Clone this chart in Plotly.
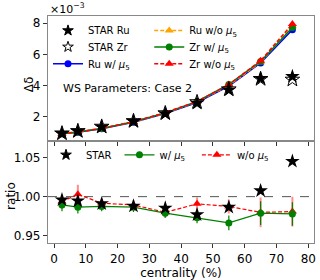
import plotly.graph_objects as go

centrality = [2.5, 7.5, 15, 25, 35, 45, 55, 65, 75]

# Top panel values in units of 1e-3
star_ru = [0.95, 1.09, 1.37, 1.72, 2.21, 2.88, 3.72, 4.46, 4.59]
star_zr = [0.95, 1.10, 1.38, 1.74, 2.24, 2.95, 3.77, 4.43, 4.39]
ru_w = [0.92, 1.02, 1.24, 1.66, 2.22, 2.92, 3.98, 5.45, 7.58]
ru_wo = [0.93, 1.04, 1.26, 1.68, 2.24, 2.96, 4.02, 5.50, 7.80]
zr_w = [0.93, 1.03, 1.26, 1.69, 2.26, 2.99, 4.08, 5.55, 7.72]
zr_wo = [0.94, 1.04, 1.27, 1.70, 2.28, 2.99, 4.07, 5.60, 7.95]
model_err = [0.02, 0.02, 0.02, 0.03, 0.03, 0.04, 0.05, 0.07, 0.09]

# Bottom panel ratios
ratio_star = [0.996, 0.9945, 0.991, 0.988, 0.9855, 0.977, 0.9865, 1.0075, 1.045]
ratio_w = [0.9895, 0.9866, 0.9875, 0.9866, 0.979, 0.973, 0.9666, 0.979, 0.978]
ratio_w_err = [0.008, 0.008, 0.006, 0.006, 0.006, 0.007, 0.0095, 0.015, 0.015]
ratio_wo = [0.9937, 1.003, 0.9916, 0.9895, 0.980, 0.9908, 0.9875, 0.980, 0.981]
ratio_wo_err = [0.009, 0.012, 0.006, 0.006, 0.007, 0.008, 0.009, 0.019, 0.019]

xticks = [0, 10, 20, 30, 40, 50, 60, 70, 80]

FONT = "DejaVu Sans"
BLUE, ORANGE, GREEN, RED = "#0000ff", "#ffa500", "#008000", "#ff0000"
MU = "<i>μ</i><sub>5</sub>"
DASH = "4px,2px"
STAR_SIZE = 11
STAR_LEG_SIZE = 8

W, H = 320, 280
ML, MR, MT, MB = 48, 4, 16, 34
PW, PH = W - ML - MR, H - MT - MB


def px_x(x):
    return (x - ML) / PW


def px_y(y):
    return 1 - (y - MT) / PH


fig = go.Figure()


def model(y, color, dash, symbol, name, legend, size=7):
    fig.add_trace(go.Scatter(
        x=centrality, y=y, mode="lines+markers", name=name,
        line=dict(color=color, width=1.5, dash=dash),
        marker=dict(color=color, symbol=symbol, size=size),
        error_y=dict(type="data", array=model_err, color=color, thickness=1.2, width=0),
        xaxis="x", yaxis="y", legend=legend))


def star_legend(name, symbol, legend, xa, ya):
    # legend-only entry with a smaller star, like the reference legend
    fig.add_trace(go.Scatter(
        x=[None], y=[None], mode="markers", name=name,
        marker=dict(symbol=symbol, size=STAR_LEG_SIZE, color="black",
                    line=dict(width=1, color="black")),
        xaxis=xa, yaxis=ya, legend=legend))


model(ru_w, BLUE, "solid", "circle", "Ru w/ " + MU, "legend3")
model(ru_wo, ORANGE, DASH, "triangle-up", "Ru w/o " + MU, "legend4", 8)
model(zr_w, GREEN, "solid", "circle", "Zr w/ " + MU, "legend5")
model(zr_wo, RED, DASH, "triangle-up", "Zr w/o " + MU, "legend6", 8)

fig.add_trace(go.Scatter(
    x=centrality, y=star_zr, mode="markers", name="STAR Zr", showlegend=False,
    marker=dict(symbol="star-open", size=STAR_SIZE, color="black", line=dict(width=1, color="black")),
    xaxis="x", yaxis="y"))
fig.add_trace(go.Scatter(
    x=centrality, y=star_ru, mode="markers", name="STAR Ru", showlegend=False,
    marker=dict(symbol="star", size=STAR_SIZE, color="black"),
    xaxis="x", yaxis="y"))
star_legend("STAR Ru", "star", "legend", "x", "y")
star_legend("STAR Zr", "star-open", "legend2", "x", "y")

# Bottom panel
fig.add_trace(go.Scatter(
    x=centrality, y=ratio_wo, mode="lines+markers", name="w/o " + MU,
    line=dict(color=RED, width=1.2, dash=DASH),
    marker=dict(color=RED, symbol="triangle-up", size=8),
    error_y=dict(type="data", array=ratio_wo_err, color="rgba(255,0,0,0.45)", thickness=2, width=0),
    xaxis="x2", yaxis="y2", legend="legend9"))
fig.add_trace(go.Scatter(
    x=centrality, y=ratio_w, mode="lines+markers", name="w/ " + MU,
    line=dict(color=GREEN, width=1.2),
    marker=dict(color=GREEN, symbol="circle", size=7),
    error_y=dict(type="data", array=ratio_w_err, color=GREEN, thickness=1.2, width=0),
    xaxis="x2", yaxis="y2", legend="legend8"))
fig.add_trace(go.Scatter(
    x=centrality, y=ratio_star, mode="markers", name="STAR", showlegend=False,
    marker=dict(symbol="star", size=STAR_SIZE, color="black"),
    xaxis="x2", yaxis="y2"))
star_legend("STAR", "star", "legend7", "x2", "y2")

axis_common = dict(showline=True, linecolor="#888888", linewidth=1.3, mirror=True,
                   ticks="outside", ticklen=4, tickwidth=1, tickcolor="#333333",
                   showgrid=False, zeroline=False,
                   tickfont=dict(family=FONT, size=12, color="black"))


def leg(xp, yp):
    return dict(x=px_x(xp), y=px_y(yp), xanchor="left", yanchor="middle",
                bgcolor="rgba(0,0,0,0)", font=dict(family=FONT, size=10),
                borderwidth=0)


legends = {
    "legend": leg(48, 30.7),
    "legend2": leg(48, 47.3),
    "legend3": leg(48, 64.3),
    "legend4": leg(150, 30.7),
    "legend5": leg(150, 47.3),
    "legend6": leg(150, 64.3),
    "legend7": leg(46, 156.7),
    "legend8": leg(120, 156.7),
    "legend9": leg(198, 156.7),
}

fig.update_layout(
    width=W, height=H,
    margin=dict(l=ML, r=MR, t=MT, b=MB),
    plot_bgcolor="white", paper_bgcolor="white",
    font=dict(family=FONT, size=10, color="black"),
    xaxis=dict(domain=[0, 1], anchor="y", range=[-1.9, 81.8], tickvals=xticks,
               showticklabels=False, **axis_common),
    yaxis=dict(domain=[0.45, 1], anchor="x", range=[0.47, 8.46], tickvals=[2, 4, 6, 8],
               **axis_common),
    xaxis2=dict(domain=[0, 1], anchor="y2", range=[-1.9, 81.8], tickvals=xticks,
                title=dict(text="centrality (%)", font=dict(family=FONT, size=12), standoff=2),
                **axis_common),
    yaxis2=dict(domain=[0, 0.45], anchor="x2", range=[0.941, 1.071],
                tickvals=[0.95, 1.00, 1.05], ticktext=["0.95", "1.00", "1.05"],
                **axis_common),
    showlegend=True,
    shapes=[dict(type="line", xref="x2 domain", yref="y2", x0=0, x1=1, y0=1.0, y1=1.0,
                 line=dict(color="#555555", width=1, dash="dash"), layer="below")],
    annotations=[
        dict(text="WS Parameters: Case 2", xref="paper", yref="paper",
             x=px_x(61), y=px_y(89.5), xanchor="left", yanchor="middle",
             showarrow=False, font=dict(family=FONT, size=11)),
        dict(text="×10<sup>−3</sup>", xref="paper", yref="paper",
             x=0.0, y=1.0, xanchor="left", yanchor="bottom", yshift=-2,
             showarrow=False, font=dict(family=FONT, size=11)),
        dict(text="Δδ", xref="paper", yref="paper", x=px_x(29),
             y=px_y(85), textangle=-90, xanchor="center", yanchor="middle",
             showarrow=False, font=dict(family=FONT, size=12)),
        dict(text="ratio", xref="paper", yref="paper", x=px_x(10),
             y=px_y(198), textangle=-90, xanchor="center", yanchor="middle",
             showarrow=False, font=dict(family=FONT, size=12)),
    ],
    **legends,
)

fig.write_html("out.html", config={"displayModeBar": False},
               post_script="document.body.style.margin='0';")
